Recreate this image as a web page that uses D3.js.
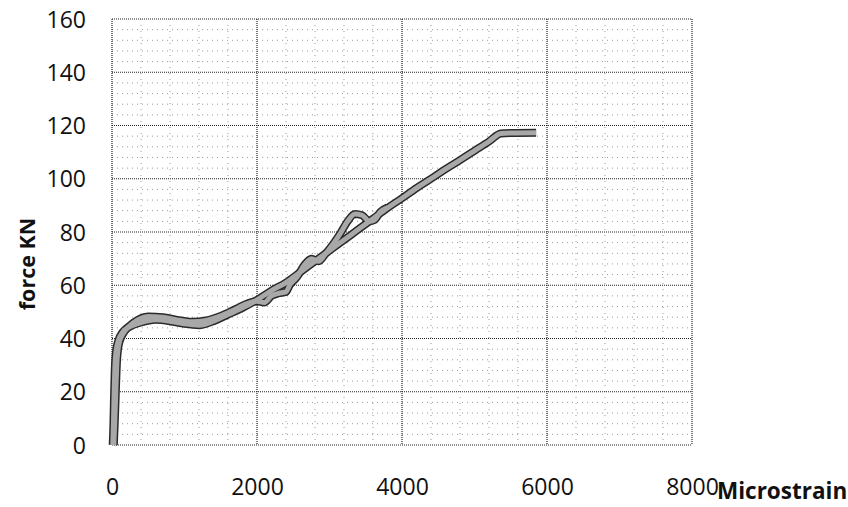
<!DOCTYPE html>
<html><head><meta charset="utf-8">
<script src="https://cdn.jsdelivr.net/npm/d3@7"></script>
<style>body{margin:0;background:#fff}svg{display:block}</style>
</head><body>
<svg id="c" width="848" height="507"></svg>
<script>
const xTicks = [0, 2000, 4000, 6000, 8000];
const yTicks = [0, 20, 40, 60, 80, 100, 120, 140, 160];
const xLabel = "Microstrain";
const yLabel = "force KN";
// gauge readings: [microstrain, force kN]
const gaugeA = [[10,0],[20,8],[28,18],[38,28],[55,35],[85,39],[150,42.5],[250,44.5],[400,46],[600,47],[800,46.5],[1000,45.5],[1200,45],[1400,46.5],[1600,49],[1800,51.5],[2000,54.5],[2200,58],[2400,61],[2600,65],[2800,69],[3000,73],[3200,77],[3400,81],[3600,85],[3800,89],[4000,92.7],[4200,96.5],[4400,100],[4600,103.6],[4800,107],[5000,110.5],[5200,114],[5363,117],[5500,117.2],[5850,117.3]];
const gaugeB = [[25,0],[40,10],[55,22],[70,32],[100,38.5],[170,42.5],[300,46],[500,48.3],[700,48],[900,47],[1100,46.3],[1300,46.8],[1500,48.5],[1700,51],[1900,53.5],[2000,54],[2100,53.5],[2200,56],[2300,57],[2400,57.5],[2450,60],[2550,63],[2650,67.5],[2750,70],[2850,69],[2950,72],[3050,75.5],[3150,79.5],[3250,84],[3350,86.8],[3450,86.3],[3550,84],[3620,84.5],[3700,87.5],[3800,89.2]];

const svg = d3.select("#c");
const L = 112, R = 692, T = 19, B = 445;
const x = d3.scaleLinear().domain([0, 8000]).range([L, R]);
const y = d3.scaleLinear().domain([0, 160]).range([B, T]);

// minor grid
const g = svg.append("g");
g.selectAll(".mx").data(d3.range(400, 8000, 400).filter(v => v % 2000)).join("line")
  .attr("x1", d => x(d)).attr("x2", d => x(d)).attr("y1", T).attr("y2", B)
  .attr("stroke", "#999").attr("stroke-width", 1).attr("stroke-dasharray", "1,5");
g.selectAll(".my").data(d3.range(4, 160, 4).filter(v => v % 20)).join("line")
  .attr("x1", L).attr("x2", R).attr("y1", d => y(d)).attr("y2", d => y(d))
  .attr("stroke", "#999").attr("stroke-width", 1).attr("stroke-dasharray", "1,4");
// major grid
g.selectAll(".Mx").data(xTicks).join("line")
  .attr("x1", d => x(d)).attr("x2", d => x(d)).attr("y1", T).attr("y2", B)
  .attr("stroke", "#222").attr("stroke-width", 1.2).attr("stroke-dasharray", "1,1");
g.selectAll(".My").data(yTicks).join("line")
  .attr("x1", L).attr("x2", R).attr("y1", d => y(d)).attr("y2", d => y(d))
  .attr("stroke", "#222").attr("stroke-width", 1.2).attr("stroke-dasharray", "1,1");

// axes tick labels via d3 axes
const font = "'Open Sans', sans-serif";
const ax = svg.append("g").attr("transform", `translate(0,${B})`)
  .call(d3.axisBottom(x).tickValues(xTicks).tickSize(0).tickPadding(30).tickFormat(d3.format("d")));
const ay = svg.append("g").attr("transform", `translate(${L},0)`)
  .call(d3.axisLeft(y).tickValues(yTicks).tickSize(0).tickPadding(26).tickFormat(d3.format("d")));
[ax, ay].forEach(a => {
  a.select(".domain").remove();
  a.selectAll("text").attr("font-family", font).attr("font-size", 23).attr("fill", "#111");
});
ax.selectAll("text").attr("dy", null).attr("y", 50);
ay.selectAll("text").attr("dy", "0.35em");

// curves
const line = d3.line().x(d => x(d[0])).y(d => y(d[1])).curve(d3.curveMonotoneX);
const series = [gaugeA, gaugeB];
const cg = svg.append("g");
series.forEach(s => cg.append("path").attr("d", line(s)).attr("fill", "none")
  .attr("stroke", "#2a2a2a").attr("stroke-width", 8).attr("stroke-linejoin", "round"));
series.forEach(s => cg.append("path").attr("d", line(s)).attr("fill", "none")
  .attr("stroke", "#a8a8a8").attr("stroke-width", 5).attr("stroke-linejoin", "round"));

// axis titles
svg.append("text").attr("x", 717).attr("y", 499).text(xLabel)
  .attr("font-family", font).attr("font-weight", "bold").attr("font-size", 22.5).attr("fill", "#111");
svg.append("text").attr("transform", "translate(35,264) rotate(-90)").attr("text-anchor", "middle")
  .text(yLabel).attr("font-family", font).attr("font-weight", "bold").attr("font-size", 21.5).attr("fill", "#111");
</script>
</body></html>
